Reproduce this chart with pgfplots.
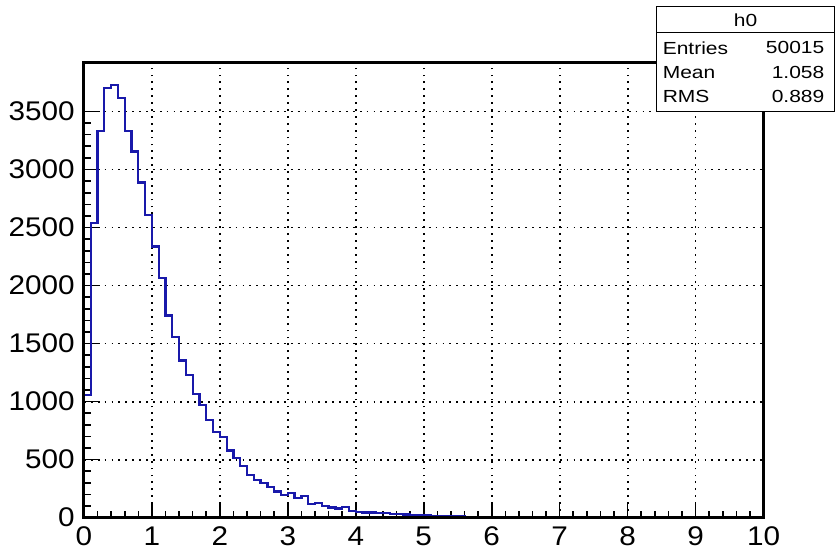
\documentclass[border=0pt]{standalone}
\usepackage{pgfplots}
\pgfplotsset{compat=1.18}
\usepackage{fontspec}
\setmainfont{Liberation Sans}
\newfontfamily\tickfont[FakeStretch=1.1]{Liberation Sans}
\newfontfamily\statfont[FakeStretch=1.2]{Liberation Sans}
\definecolor{histblue}{RGB}{25,25,170}
\begin{document}
\begin{tikzpicture}
\begin{axis}[
  scale only axis, width=680pt, height=455pt,
  at={(0,0)}, anchor=south west,
  xmin=0, xmax=10, ymin=0, ymax=3918,
  axis line style={line width=1pt, black},
  xtick={0,1,...,10}, ytick={0,500,...,3500},
  minor x tick num=4, minor y tick num=4,
  tick align=inside, xtick pos=bottom, ytick pos=left,
  major tick length=14pt, minor tick length=7pt,
  major tick style={line width=1.6pt, black},
  minor tick style={line width=1.6pt, black},
  grid=major,
  major grid style={black, line width=1.8pt, dash pattern=on 1.8pt off 5.1pt},
  /pgf/number format/assume math mode=true,
  /pgf/number format/1000 sep={},
  xticklabel style={font=\tickfont\fontsize{27}{27}\selectfont, anchor=north, inner sep=0pt, yshift=-9pt},
  yticklabel style={font=\tickfont\fontsize{27}{27}\selectfont, anchor=east, inner sep=0pt, xshift=-9pt},
]
\addplot[const plot mark left, draw=histblue, line width=2.3pt, line join=miter, line cap=rect] coordinates {
(0,0) (0,1060) (0.1,2540) (0.2,3333) (0.3,3700) (0.4,3729) (0.5,3614) (0.6,3333) (0.7,3155) (0.8,2888) (0.9,2610)
(1.0,2337) (1.1,2065) (1.2,1741) (1.3,1558) (1.4,1354) (1.5,1227) (1.6,1067) (1.7,969) (1.8,840) (1.9,737)
(2.0,694) (2.1,579) (2.2,513) (2.3,444) (2.4,370) (2.5,325) (2.6,300) (2.7,267) (2.8,225) (2.9,195)
(3.0,210) (3.1,172) (3.2,185) (3.3,120) (3.4,129) (3.5,100) (3.6,88) (3.7,78) (3.8,92) (3.9,57)
(4.0,47) (4.1,45) (4.2,45) (4.3,40) (4.4,38) (4.5,30) (4.6,30) (4.7,28) (4.8,20) (4.9,22)
(5.0,18) (5.1,15) (5.2,14) (5.3,13) (5.4,10) (5.5,10) (5.6,8) (5.7,7) (5.8,6) (5.9,5)
(6.0,5) (6.1,4) (6.2,4) (6.3,3) (6.4,3) (6.5,2) (6.6,2) (6.7,2) (6.8,1) (6.9,2)
(7.0,1) (7.1,1) (7.2,0) (7.3,1) (7.4,0) (7.5,1) (7.6,0) (7.7,0) (7.8,1) (7.9,0)
(8.0,0) (8.1,0) (8.2,1) (8.3,0) (8.4,0) (8.5,0) (8.6,0) (8.7,0) (8.8,0) (8.9,0)
(9.0,0) (9.1,0) (9.2,0) (9.3,0) (9.4,0) (9.5,0) (9.6,0) (9.7,0) (9.8,0) (9.9,0)
(10,0)
};
\end{axis}
\draw[line width=3pt, black] (0,0) rectangle (680pt,455pt);
\draw[line width=1pt, fill=white] (573pt,406pt) rectangle (751pt,511pt);
\draw[line width=1pt] (573pt,485pt) -- (751pt,485pt);
\begin{scope}[every node/.style={font=\statfont\fontsize{17.5}{17.5}\selectfont, inner sep=0pt}]
\node at (662pt,498pt) {h0};
\node[anchor=west] at (579pt,470pt) {Entries};
\node[anchor=east] at (741pt,470pt) {50015};
\node[anchor=west] at (579pt,445pt) {Mean};
\node[anchor=east] at (741pt,445pt) {1.058};
\node[anchor=west] at (579pt,421pt) {RMS};
\node[anchor=east] at (741pt,421pt) {0.889};
\end{scope}
\path[use as bounding box] (-84pt,-35pt) rectangle (751pt,518pt);
\end{tikzpicture}
\end{document}
